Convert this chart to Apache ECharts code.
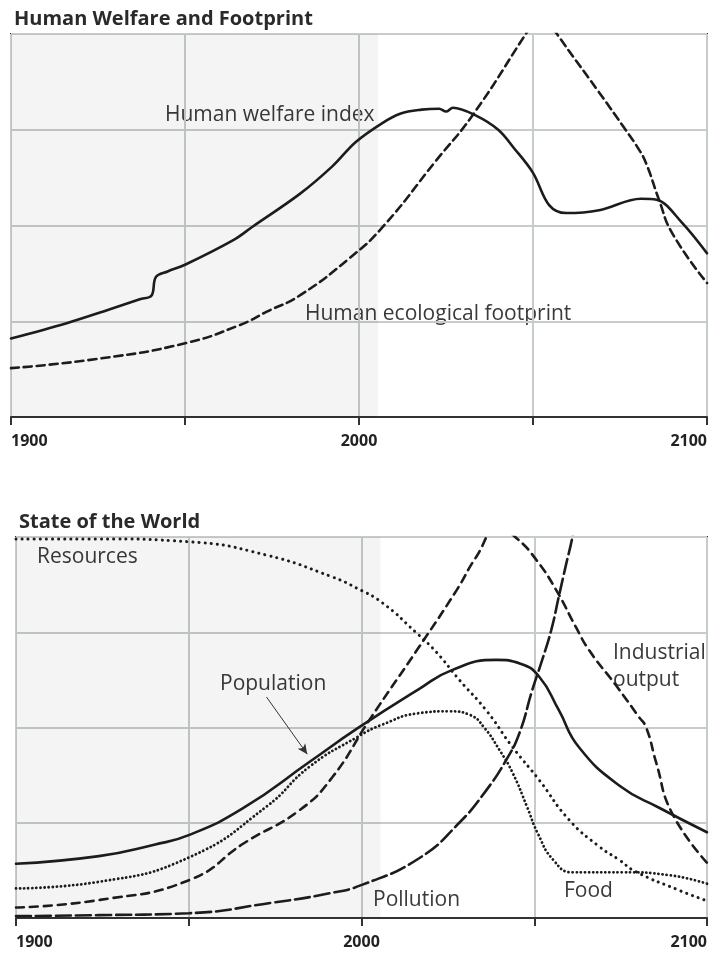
<!DOCTYPE html>
<html>
<head>
<meta charset="utf-8">
<script src="https://cdn.jsdelivr.net/npm/echarts@6/dist/echarts.min.js"></script>
<style>
    html, body { margin: 0; padding: 0; background: #fff; }
    #echart { width: 710px; height: 955px; }
</style>
</head>
<body>
<div id="echart"></div>
<script>
// year labels shown under each panel
const yearLabels = [1900, 2000, 2100];
const historyEnd = 2005.5;

// top panel: [year, value] (0..4 scale)
const welfareIndex = [
    [1900, 0.82], [1916, 0.98], [1928, 1.12], [1937, 1.23], [1940.4, 1.27],
    [1941.6, 1.46], [1945, 1.52], [1950, 1.59], [1964, 1.85], [1969.5, 1.99],
    [1983, 2.33], [1992.4, 2.62], [1999, 2.87], [2006.7, 3.07], [2012, 3.17],
    [2018, 3.21], [2023, 3.22], [2025, 3.19], [2027, 3.23], [2033.5, 3.15],
    [2040, 3.0], [2044.5, 2.81], [2050, 2.55], [2054.7, 2.21], [2059.5, 2.13],
    [2069, 2.16], [2081, 2.28], [2085.5, 2.27], [2092.8, 2.03], [2100, 1.71]
];
const ecoFootprint = [
    [1900, 0.51], [1925.5, 0.61], [1950, 0.77], [1965.7, 0.96], [1973.5, 1.10],
    [1983, 1.27], [1997.3, 1.66], [2006.7, 1.98], [2022.2, 2.68], [2032.6, 3.15],
    [2048.1, 4.01], [2052.4, 4.25], [2056.7, 4.01], [2069, 3.39], [2076.2, 3.02],
    [2080.5, 2.79], [2082.5, 2.65], [2086.2, 2.27], [2090, 1.92], [2100, 1.40]
];

// bottom panel
const population = [
    [1900, 0.57], [1924, 0.65], [1940, 0.77], [1950, 0.87], [1965.6, 1.15],
    [1985, 1.64], [1998.8, 1.99], [2016.5, 2.40], [2026, 2.60], [2039, 2.71],
    [2046, 2.67], [2051.5, 2.53], [2057, 2.19], [2063, 1.79], [2075, 1.38],
    [2086, 1.16], [2100, 0.90]
];
const food = [
    [1900, 0.31], [1924, 0.38], [1950.3, 0.64], [1972.5, 1.17], [1985, 1.59],
    [1998.8, 1.90], [2006, 2.03], [2016.5, 2.15], [2025.5, 2.17], [2031.5, 2.13],
    [2035.5, 2.0], [2040, 1.76], [2043.8, 1.52], [2048, 1.16], [2051, 0.89],
    [2055.5, 0.61], [2061, 0.48], [2075.5, 0.48], [2089, 0.45], [2100, 0.36]
];
const resources = [
    [1900, 3.98], [1924, 3.98], [1950, 3.95], [1972.5, 3.81], [1991.6, 3.58],
    [1998.8, 3.46], [2006, 3.31], [2016, 2.99], [2021.7, 2.79], [2028.3, 2.50],
    [2036.1, 2.18], [2043.6, 1.80], [2051.4, 1.45], [2060.1, 1.03], [2068.8, 0.75],
    [2074.6, 0.61], [2079.2, 0.49], [2092, 0.29], [2100, 0.18]
];
const industrialOutput = [
    [1900, 0.11], [1924.3, 0.19], [1950.3, 0.40], [1966.2, 0.79], [1982, 1.13],
    [1991.6, 1.48], [2002.3, 2.08], [2016, 2.81], [2027.5, 3.44], [2033.2, 3.79],
    [2039.8, 4.10], [2044.8, 3.99], [2050.6, 3.76], [2056.4, 3.44], [2062.1, 3.05],
    [2065.9, 2.81], [2073.7, 2.44], [2080.3, 2.11], [2082.4, 2.0], [2085.3, 1.63],
    [2089.9, 1.10], [2100, 0.58]
];
const pollution = [
    [1900, 0.02], [1924, 0.03], [1950, 0.05], [1974, 0.16], [1990.8, 0.26],
    [2000.3, 0.35], [2016.8, 0.63], [2028.3, 1.0], [2036.1, 1.34], [2041.9, 1.66],
    [2045.7, 1.94], [2049.4, 2.39], [2052.3, 2.71], [2054.9, 3.02], [2057.2, 3.39],
    [2059.2, 3.71], [2061, 3.99], [2062.5, 4.3]
];
// arrow from the "Population" label to its line
const populationArrow = [[1972.5, 2.32], [1984.3, 1.72]];

const ink = '#1c1c1c';
const gridGray = '#c6cbcb';
const textGray = '#3a3a3a';
const font = '"Open Sans", "Noto Sans", sans-serif';

function make_x_axis(gridIndex) {
    return {
        type: 'value',
        gridIndex: gridIndex,
        min: 1900,
        max: 2100,
        interval: 50,
        axisLine: { show: true, lineStyle: { color: '#333', width: 2 } },
        axisTick: { show: true, length: 8, lineStyle: { color: '#333', width: 2 } },
        splitLine: { show: true, lineStyle: { color: gridGray, width: 2 } },
        axisLabel: {
            margin: 16,
            fontFamily: font,
            fontWeight: 'bold',
            fontSize: 16,
            color: '#222',
            alignMinLabel: 'left',
            alignMaxLabel: 'right',
            formatter: function (v) {
                return yearLabels.indexOf(v) >= 0 ? String(v) : '';
            }
        }
    };
}

function make_y_axis(gridIndex) {
    return {
        type: 'value',
        gridIndex: gridIndex,
        min: 0,
        max: 4,
        interval: 1,
        axisLine: { show: false },
        axisTick: { show: false },
        axisLabel: { show: false },
        splitLine: { show: true, lineStyle: { color: gridGray, width: 2 } }
    };
}

function line(name, gridIndex, data, dash, width) {
    return {
        name: name,
        type: 'line',
        xAxisIndex: gridIndex,
        yAxisIndex: gridIndex,
        data: data,
        smooth: 0.5,
        showSymbol: false,
        symbol: 'none',
        clip: true,
        lineStyle: { color: ink, width: width || 2.6, type: dash || 'solid', cap: 'round' }
    };
}

function label(text, left, top) {
    return {
        type: 'text',
        left: left,
        top: top,
        style: { text: text, fill: textGray, font: '21px ' + font }
    };
}

const shade = {
    silent: true,
    itemStyle: { color: 'rgba(0, 0, 0, 0.045)' },
    data: [[{ xAxis: 1900 }, { xAxis: historyEnd }]]
};

let welfareSeries = line('Human welfare index', 0, welfareIndex);
welfareSeries.smooth = 0.35;
welfareSeries.markArea = shade;

let popSeries = line('Population', 1, population);
popSeries.markArea = shade;
popSeries.markLine = {
    silent: true,
    symbol: ['none', 'arrow'],
    symbolSize: [7, 10],
    label: { show: false },
    lineStyle: { color: '#333', width: 1, type: 'solid' },
    data: [[{ coord: populationArrow[0] }, { coord: populationArrow[1] }]]
};

var option = {
    animation: false,
    backgroundColor: '#fff',
    title: [{
        text: 'Human Welfare and Footprint',
        left: 9, top: 4,
        textStyle: { fontFamily: font, fontWeight: 'bold', fontSize: 20, color: '#2a2a2a' }
    }, {
        text: 'State of the World',
        left: 14, top: 507,
        textStyle: { fontFamily: font, fontWeight: 'bold', fontSize: 20, color: '#2a2a2a' }
    }],
    grid: [{
        left: 11, top: 34, width: 697, height: 383,
        show: true, backgroundColor: '#fff', borderColor: '#333', borderWidth: 2
    }, {
        left: 16, top: 537, width: 692, height: 381,
        show: true, backgroundColor: '#fff', borderColor: '#333', borderWidth: 2
    }],
    xAxis: [make_x_axis(0), make_x_axis(1)],
    yAxis: [make_y_axis(0), make_y_axis(1)],
    series: [
        welfareSeries,
        line('Human ecological footprint', 0, ecoFootprint, [8, 5]),
        popSeries,
        line('Food', 1, food, [0.1, 4], 2.8),
        line('Resources', 1, resources, [0.1, 6], 3),
        line('Industrial output', 1, industrialOutput, [8, 6]),
        line('Pollution', 1, pollution, [15, 5])
    ],
    graphic: [
        label('Human welfare index', 165, 105),
        label('Human ecological footprint', 305, 304),
        label('Resources', 37, 547),
        label('Population', 220, 674),
        label('Industrial', 613, 643),
        label('output', 613, 670),
        label('Pollution', 373, 890),
        label('Food', 564, 881)
    ]
};

var chart = echarts.init(document.getElementById('echart'), null, { renderer: 'canvas' });
chart.setOption(option);
</script>
</body>
</html>
